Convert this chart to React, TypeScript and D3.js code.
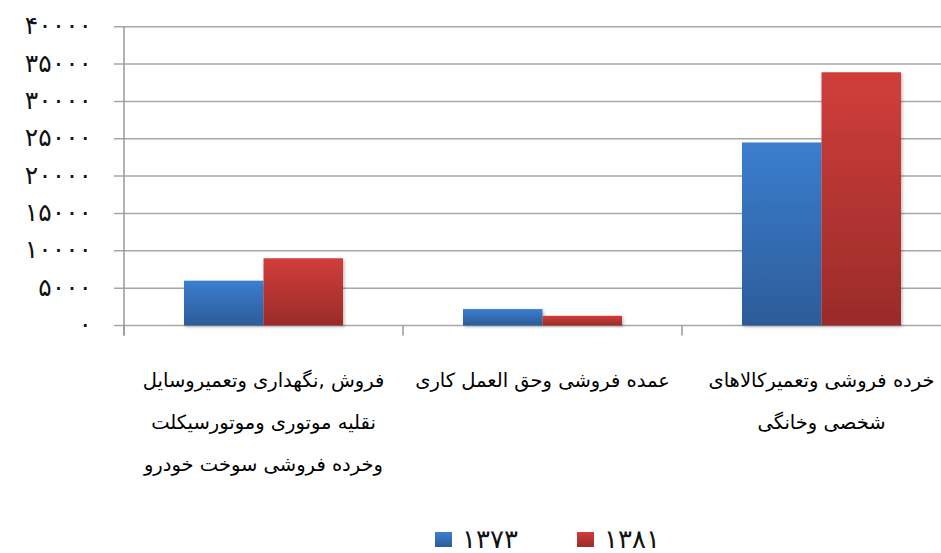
import React from "react";
import * as d3 from "d3";

const categories = [
  ["فروش ,نگهداری وتعمیروسایل", "نقلیه موتوری وموتورسیکلت", "وخرده فروشی سوخت خودرو"],
  ["عمده فروشی وحق العمل کاری"],
  ["خرده فروشی وتعمیرکالاهای", "شخصی وخانگی"],
];
const seriesNames = ["۱۳۷۳", "۱۳۸۱"];
const values1373 = [6000, 2200, 24500];
const values1381 = [9000, 1300, 33900];
const yTicks = [0, 5000, 10000, 15000, 20000, 25000, 30000, 35000, 40000];

const toFa = (n: number) => String(n).replace(/\d/g, (d) => "۰۱۲۳۴۵۶۷۸۹"[+d]);

export default function App() {
  const W = 941, H = 553;
  const left = 124, catW = 279, top = 26.7, bottom = 325.5;
  const x0 = d3.scaleBand<number>().domain([0, 1, 2]).range([left, left + catW * 3]).padding(0);
  const inner = d3.scaleBand<number>().domain([0, 1]).range([60, catW - 60]).padding(0);
  const y = d3.scaleLinear().domain([0, 40000]).range([bottom, top]);
  const series = [values1373, values1381];
  const grads = ["gBlue", "gRed"];
  const font = "'DejaVu Sans', sans-serif";
  return (
    <svg width={W} height={H} style={{ position: "absolute", left: 0, top: 0 }} fontFamily={font}>
      <defs>
        <linearGradient id="gBlue" x1="0" y1="0" x2="0" y2="1">
          <stop offset="0" stopColor="#3b7ecf" />
          <stop offset="1" stopColor="#2c5c99" />
        </linearGradient>
        <linearGradient id="gRed" x1="0" y1="0" x2="0" y2="1">
          <stop offset="0" stopColor="#d03e3b" />
          <stop offset="1" stopColor="#9a2b29" />
        </linearGradient>
        <filter id="sh" x="-10%" y="-10%" width="130%" height="130%">
          <feDropShadow dx="1.5" dy="1.5" stdDeviation="1.5" floodColor="#000" floodOpacity="0.25" />
        </filter>
      </defs>
      {yTicks.map((t) => (
        <g key={t}>
          <line x1={left - 10} x2={W + 30} y1={y(t)} y2={y(t)} stroke="#a6a6a6" strokeWidth={1.5} />
          <text x={92} y={y(t)} dy="0.3em" textAnchor="end" fontSize={25} letterSpacing={9} fill="#111" style={{ direction: "ltr" }}>
            {toFa(t)}
          </text>
        </g>
      ))}
      <line x1={left} x2={left} y1={top} y2={bottom + 10} stroke="#999" strokeWidth={1.5} />
      {[0, 1, 2, 3].map((i) => (
        <line key={i} x1={left + catW * i} x2={left + catW * i} y1={bottom} y2={bottom + 10} stroke="#999" strokeWidth={1.5} />
      ))}
      {categories.map((c, ci) => (
        <g key={ci} transform={`translate(${x0(ci)},0)`}>
          {series.map((s, si) => (
            <rect key={si} x={inner(si)} width={inner.bandwidth()} y={y(s[ci])} height={bottom - y(s[ci])} fill={`url(#${grads[si]})`} filter="url(#sh)" />
          ))}
          {c.map((line, li) => (
            <text key={li} x={catW / 2} y={380 + li * 42} dy="0.35em" textAnchor="middle" fontSize={19.5} fill="#000" style={{ direction: "rtl", unicodeBidi: "plaintext" } as any}>
              {line}
            </text>
          ))}
        </g>
      ))}
      {seriesNames.map((n, i) => (
        <g key={n} transform={`translate(${435 + i * 142},532)`}>
          <rect width={17} height={15} fill={`url(#${grads[i]})`} />
          <text x={27} y={8} dy="0.3em" fontSize={26} letterSpacing={1} fill="#111">{n}</text>
        </g>
      ))}
    </svg>
  );
}
